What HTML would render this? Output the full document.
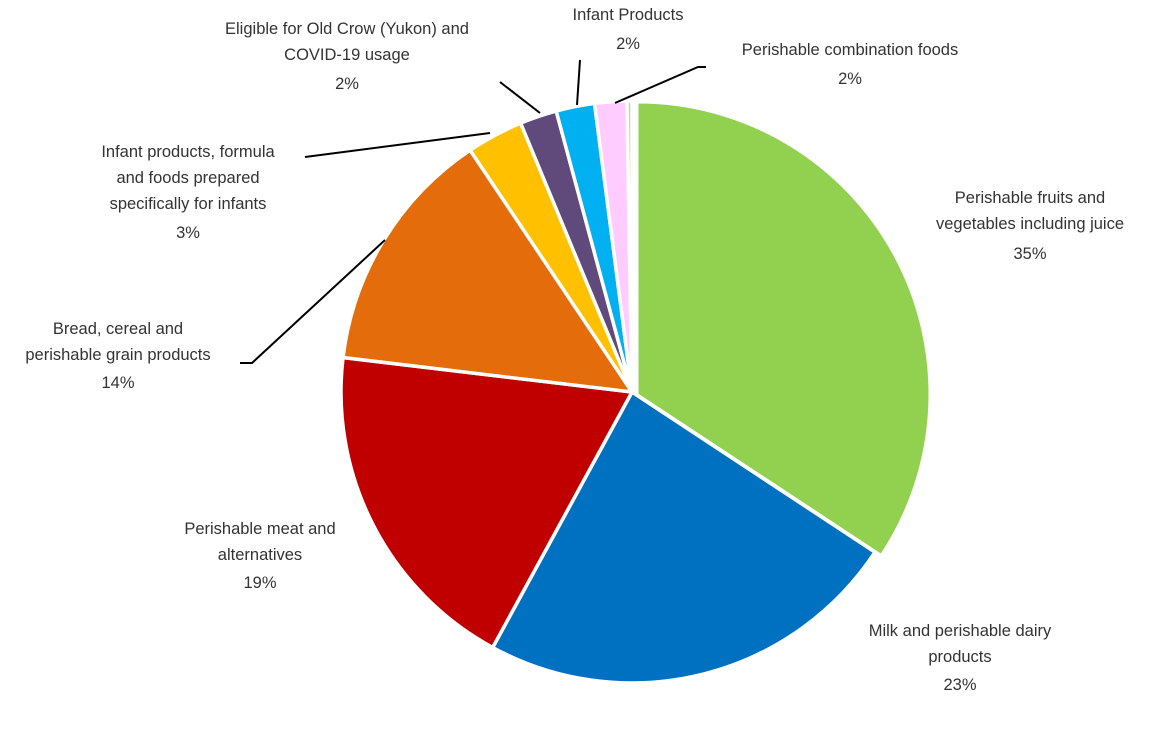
<!DOCTYPE html>
<html><head><meta charset="utf-8"><style>
body{margin:0;background:#fff;}
svg text{font-family:"Liberation Sans",sans-serif;font-size:16.5px;fill:#333;}
</style></head><body>
<svg id="s" width="1170" height="736" xmlns="http://www.w3.org/2000/svg">
<g id="pie"></g>
<g stroke="#000" stroke-width="2" fill="none">
<polyline points="240,363 252,363 385,240"/>
<polyline points="305,157 490,133"/>
<polyline points="500,82 540,113"/>
<polyline points="580,60 577,105"/>
<polyline points="706,67 698,67 615,103"/>
</g>
<g text-anchor="middle">
<text x="1030" y="203">Perishable fruits and</text>
<text x="1030" y="229">vegetables including juice</text>
<text x="1030" y="259">35%</text>
<text x="960" y="636">Milk and perishable dairy</text>
<text x="960" y="662">products</text>
<text x="960" y="690">23%</text>
<text x="260" y="534">Perishable meat and</text>
<text x="260" y="560">alternatives</text>
<text x="260" y="588">19%</text>
<text x="118" y="334">Bread, cereal and</text>
<text x="118" y="360">perishable grain products</text>
<text x="118" y="388">14%</text>
<text x="188" y="157">Infant products, formula</text>
<text x="188" y="183">and foods prepared</text>
<text x="188" y="209">specifically for infants</text>
<text x="188" y="238">3%</text>
<text x="347" y="34">Eligible for Old Crow (Yukon) and</text>
<text x="347" y="60">COVID-19 usage</text>
<text x="347" y="89">2%</text>
<text x="628" y="20">Infant Products</text>
<text x="628" y="49">2%</text>
<text x="850" y="55">Perishable combination foods</text>
<text x="850" y="84">2%</text>
</g>
</svg>
<script>
var cx=632,cy=392,r=291;
var a=[0,123.4,208.6,276.8,326.2,337.5,344.9,352.6,359,360];
var c=["#92D050","#0070C0","#C00000","#E46C0A","#FFC000","#604A7B","#00B0F0","#FFCCFF","#C3D69B"];
var g=document.getElementById("pie"),h="";
function p(d,ox,oy){var t=d*Math.PI/180;return [(cx+ox+r*Math.sin(t)).toFixed(2),(cy+oy-r*Math.cos(t)).toFixed(2)];}
for(var i=0;i<9;i++){var ox=i==0?6:0,oy=i==0?2:0;var s=p(a[i],ox,oy),e=p(a[i+1],ox,oy);var L=(a[i+1]-a[i])>180?1:0;
h+='<path d="M'+(cx+ox)+','+(cy+oy)+'L'+s[0]+','+s[1]+'A'+r+','+r+' 0 '+L+' 1 '+e[0]+','+e[1]+'Z" fill="'+c[i]+'" stroke="#fff" stroke-width="'+(i==0?1:3.5)+'"/>';}
g.innerHTML=h;
</script>
</body></html>
